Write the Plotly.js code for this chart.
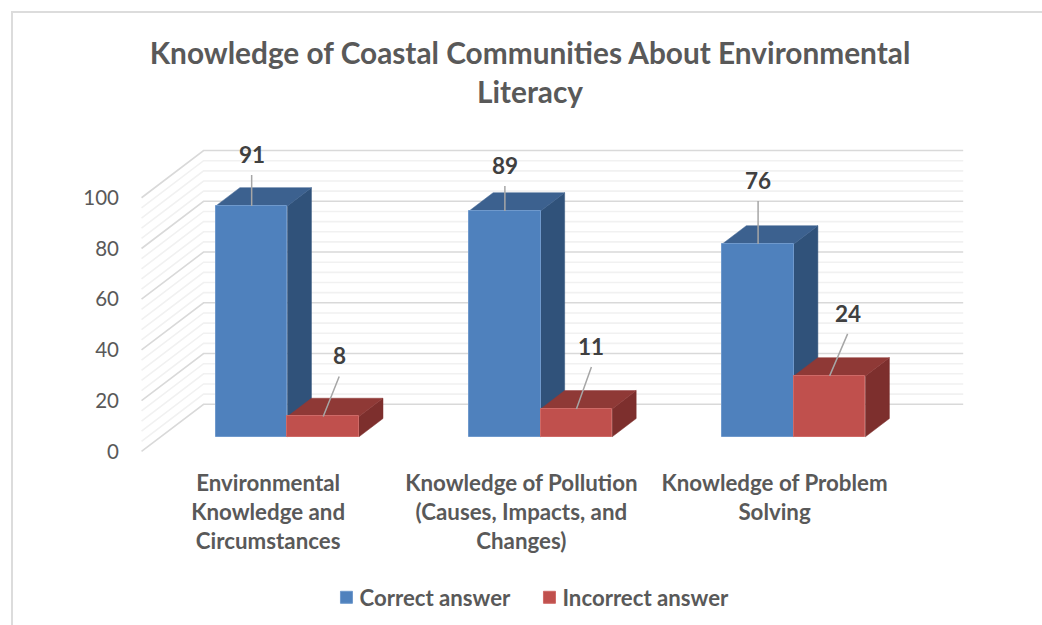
<!DOCTYPE html>
<html>
<head>
<meta charset="utf-8">
<script src="https://cdn.plot.ly/plotly-3.0.1.min.js"></script>
<style>
  html, body { margin: 0; padding: 0; background: #fff; overflow: hidden; }
  #frame { position: absolute; left: 11px; top: 11px; width: 1031px; height: 614px;
           border-left: 2px solid #dcdcdc; border-top: 2px solid #dcdcdc; box-sizing: border-box; }
  #chart { position: absolute; left: 0; top: 0; width: 1042px; height: 625px; }
</style>
</head>
<body>
<div id="frame"></div>
<div id="chart"></div>
<script>
// Survey results
const categories = [
  "Environmental<br>Knowledge and<br>Circumstances",
  "Knowledge of Pollution<br>(Causes, Impacts, and<br>Changes)",
  "Knowledge of Problem<br>Solving"
];
const correctAnswer = [91, 89, 76];
const incorrectAnswer = [8, 11, 24];
const majorTicks = [0, 20, 40, 60, 80, 100];
const minorTicks = [4, 8, 12, 16, 24, 28, 32, 36, 44, 48, 52, 56, 64, 68, 72, 76, 84, 88, 92, 96];

// Oblique projection: depth 0 is the front edge of the side wall, depth 1 the back wall.
const DEPTH_X = 0.245;   // category units per full depth
const DEPTH_Y = 18.6;    // value units per full depth
const BAR_FRONT = 0.311; // depth of a bar's front face
const BAR_DEPTH = 0.387; // depth thickness of a bar
const BAR_W = 0.2825;    // bar width in category units
const X_LEFT = -0.5, X_RIGHT = 2.745;

const slots = categories.map((_, i) => i);
const proj = (x, v, d) => [x + d * DEPTH_X, v + d * DEPTH_Y];
const pathOf = pts => "M" + pts.map(p => p[0] + "," + p[1]).join("L");

// Wall grid: diagonal on the side wall, then across the back wall
function gridShape(v, color, width) {
  return {
    type: "path", xref: "x", yref: "y", layer: "below",
    path: pathOf([proj(X_LEFT, v, 0), proj(X_LEFT, v, 1), proj(X_RIGHT - DEPTH_X, v, 1)]),
    line: { color: color, width: width }
  };
}

// Top and side faces of a bar whose front face starts at x0
function boxFaces(x0, v, topColor, sideColor) {
  const f = BAR_FRONT, b = BAR_FRONT + BAR_DEPTH, x1 = x0 + BAR_W;
  const face = (pts, c) => ({
    type: "path", xref: "x", yref: "y", layer: "below",
    path: pathOf(pts) + "Z", fillcolor: c, line: { color: c, width: 0.5 }
  });
  return [
    face([proj(x1, 0, f), proj(x1, 0, b), proj(x1, v, b), proj(x1, v, f)], sideColor),
    face([proj(x0, v, f), proj(x0, v, b), proj(x1, v, b), proj(x1, v, f)], topColor)
  ];
}

const shapes = [];
minorTicks.forEach(v => shapes.push(gridShape(v, "#f1f1f1", 1.6)));
majorTicks.forEach(v => shapes.push(gridShape(v, "#d9d9d9", 1.6)));
slots.forEach(i => {
  shapes.push(...boxFaces(i - BAR_W, correctAnswer[i], "#3c618f", "#30527a"));
  shapes.push(...boxFaces(i, incorrectAnswer[i], "#8f3936", "#7d2f2d"));
});

const frontShift = BAR_FRONT * DEPTH_X;
const frontBase = BAR_FRONT * DEPTH_Y;
const traces = [
  {
    type: "bar", name: "Correct answer", x: slots, y: correctAnswer,
    base: frontBase, width: BAR_W, offset: frontShift - BAR_W,
    marker: { color: "#4f81bd", line: { color: "#6f99cc", width: 1 } }
  },
  {
    type: "bar", name: "Incorrect answer", x: slots, y: incorrectAnswer,
    base: frontBase, width: BAR_W, offset: frontShift,
    marker: { color: "#c0504d", line: { color: "#cf6a67", width: 1 } }
  }
];

// Value labels sit above a leader line; pixel offsets of each leader's far end
const seriesLabels = [
  { values: correctAnswer, shift: -BAR_W / 2, ax: [0, 0, 0], ay: [-31, -25, -43] },
  { values: incorrectAnswer, shift: BAR_W / 2, ax: [16, 15, 18], ay: [-40, -42, -42] }
];
const annotations = [];
seriesLabels.forEach(s => slots.forEach(i => {
  const p = proj(i + s.shift, s.values[i], BAR_FRONT);
  annotations.push({
    x: p[0], y: p[1], xref: "x", yref: "y", text: String(s.values[i]),
    showarrow: true, arrowhead: 0, arrowwidth: 1.5, arrowcolor: "#a6a6a6",
    ax: s.ax[i], ay: s.ay[i], xanchor: "center", yanchor: "bottom", borderpad: 6,
    font: { family: "Lato", size: 22.5, weight: 700, color: "#404040" }
  });
}));

const layout = {
  width: 1042, height: 625,
  paper_bgcolor: "rgba(0,0,0,0)", plot_bgcolor: "rgba(0,0,0,0)",
  margin: { l: 138.5, r: 75.2, t: 147.2, b: 171.1, autoexpand: false },
  title: {
    text: "Knowledge of Coastal Communities About Environmental<br>Literacy",
    x: 530 / 1042, xanchor: "center", xref: "container",
    y: 1 - 64 / 625, yanchor: "top", yref: "container",
    font: { family: "Lato", size: 29.8, weight: 700, color: "#595959" }
  },
  xaxis: {
    range: [-0.51, 2.76], tickmode: "array", tickvals: slots, ticktext: categories,
    showgrid: false, zeroline: false, showline: false, ticks: "", ticklabelstandoff: 14,
    tickangle: 0, fixedrange: true,
    tickfont: { family: "Lato", size: 22.3, weight: 700, color: "#595959" }
  },
  yaxis: {
    range: [-1, 120], tickmode: "array", tickvals: majorTicks,
    showgrid: false, zeroline: false, showline: false, ticks: "", ticklabelstandoff: 19,
    fixedrange: true,
    tickfont: { family: "Lato", size: 20.5, color: "#595959" }
  },
  barmode: "overlay", bargap: 0,
  showlegend: true,
  legend: {
    orientation: "h", xanchor: "left", yanchor: "middle",
    x: 0.2264, y: -0.4670, traceorder: "normal",
    entrywidth: 158, entrywidthmode: "pixels",
    font: { family: "Lato", size: 22.2, weight: 700, color: "#595959" }
  },
  shapes: shapes,
  annotations: annotations
};

Plotly.newPlot("chart", traces, layout, { displayModeBar: false, responsive: false }).then(() => {
  // Tighten the gap between each legend swatch and its label
  document.querySelectorAll("#chart .legendtext").forEach(t => {
    t.setAttribute("x", Number(t.getAttribute("x")) - 7);
  });
});
</script>
</body>
</html>
